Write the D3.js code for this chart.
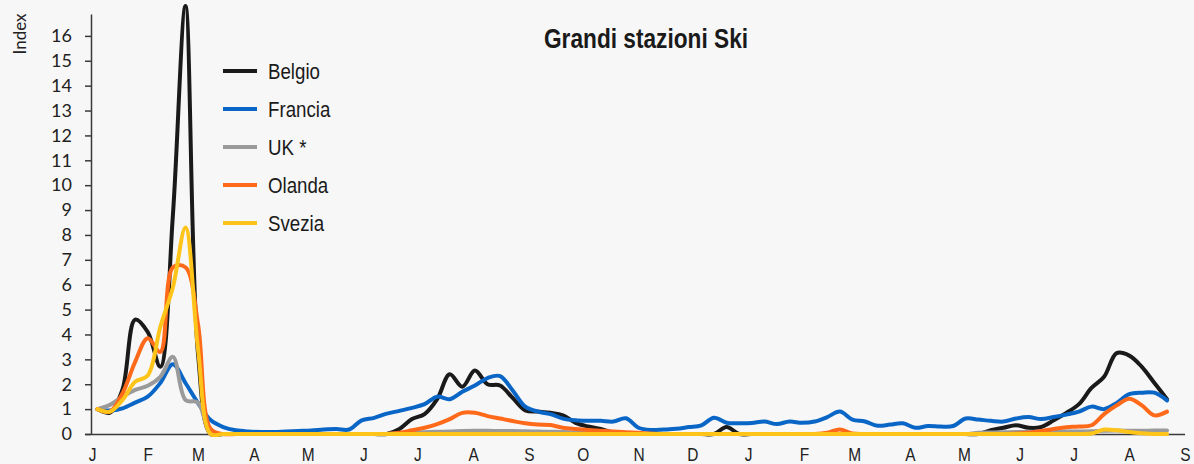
<!DOCTYPE html>
<html>
<head>
<meta charset="utf-8">
<script src="https://cdn.jsdelivr.net/npm/d3@7"></script>
<style>
  body { margin: 0; background: #f7f7f7; }
  svg { display: block; }
</style>
</head>
<body>
<svg id="chart" width="1194" height="464"></svg>
<script>
// weekly index values, first week starting 4 Jan (year 1) up to late Aug (year 2)
var startDate = new Date(2021, 0, 4)

var monthLabels = ["J", "F", "M", "A", "M", "J", "J", "A", "S", "O", "N", "D",
    "J", "F", "M", "A", "M", "J", "J", "A", "S"]

var yTicks = [0, 1, 2, 3, 4, 5, 6, 7, 8, 9, 10, 11, 12, 13, 14, 15, 16]

var seriesNames = ["Belgio", "Francia", "UK *", "Olanda", "Svezia"]
var seriesColors = ["#1a1a1a", "#0a66c6", "#9a9a9a", "#ff6a1a", "#ffc41a"]

var belgio = [1.0, 0.86, 1.8, 4.6, 4.1, 2.7, 8.8, 17.2, 3.2, 0,
    0, 0, 0, 0, 0, 0, 0, 0, 0, 0,
    0, 0, 0, 0, 0.2, 0.6, 0.8, 1.4, 2.4, 1.9,
    2.55, 2.0, 1.95, 1.45, 0.95, 0.9, 0.85, 0.75, 0.45, 0.3,
    0.2, 0.05, 0, 0, 0, 0, 0, 0, 0, 0,
    0.28, 0, 0, 0, 0, 0, 0, 0, 0, 0,
    0, 0, 0, 0, 0, 0, 0, 0, 0, 0,
    0, 0.15, 0.25, 0.35, 0.25, 0.28, 0.55, 0.85, 1.2, 1.85,
    2.3, 3.25, 3.15, 2.7, 2.05, 1.4]

var francia = [1.0, 0.94, 1.03, 1.26, 1.5, 2.05, 2.8, 2.05, 1.24, 0.56,
    0.28, 0.15, 0.1, 0.08, 0.08, 0.1, 0.12, 0.14, 0.18, 0.2,
    0.18, 0.55, 0.65, 0.82, 0.93, 1.05, 1.2, 1.5, 1.4, 1.7,
    1.95, 2.25, 2.33, 1.75, 1.1, 0.9, 0.8, 0.62, 0.55, 0.53,
    0.53, 0.5, 0.63, 0.25, 0.16, 0.18, 0.21, 0.28, 0.35, 0.65,
    0.45, 0.43, 0.44, 0.5, 0.4, 0.5, 0.45, 0.5, 0.68, 0.9,
    0.58, 0.5, 0.33, 0.38, 0.43, 0.25, 0.32, 0.3, 0.32, 0.62,
    0.58, 0.53, 0.5, 0.62, 0.68, 0.6, 0.68, 0.78, 0.9, 1.1,
    1.0, 1.25, 1.6, 1.66, 1.66, 1.35]

var uk = [1.0, 1.17, 1.5, 1.77, 1.94, 2.3, 3.1, 1.37, 1.26, 0,
    0, 0, 0, 0, 0, 0, 0, 0, 0, 0,
    0, 0, 0, 0, 0.03, 0.05, 0.07, 0.09, 0.1, 0.12,
    0.13, 0.13, 0.12, 0.12, 0.11, 0.1, 0.09, 0.08, 0.06, 0.05,
    0.04, 0.03, 0.02, 0, 0, 0, 0, 0, 0, 0,
    0, 0, 0, 0, 0, 0, 0, 0, 0, 0,
    0, 0, 0, 0, 0, 0, 0, 0, 0, 0,
    0.05, 0.06, 0.07, 0.08, 0.08, 0.09, 0.1, 0.1, 0.1, 0.11,
    0.13, 0.14, 0.13, 0.13, 0.14, 0.14]

var olanda = [1.0, 0.9, 1.64, 2.9, 3.85, 3.3, 6.7, 6.7, 4.4, 0.2,
    0, 0, 0, 0, 0, 0, 0, 0, 0, 0,
    0, 0, 0, 0, 0.05, 0.15, 0.25, 0.4, 0.6, 0.85,
    0.85, 0.72, 0.62, 0.52, 0.43, 0.38, 0.36, 0.25, 0.2, 0.16,
    0.13, 0.1, 0.07, 0.05, 0.02, 0, 0, 0, 0, 0,
    0, 0, 0, 0, 0, 0, 0, 0, 0.05, 0.18,
    0.02, 0, 0, 0, 0, 0, 0, 0, 0, 0,
    0, 0, 0, 0.02, 0.05, 0.12, 0.2, 0.27, 0.3, 0.35,
    0.8, 1.15, 1.42, 1.15, 0.75, 0.9]

var svezia = [1.0, 0.9, 1.37, 2.1, 2.35, 4.3, 5.9, 8.3, 3.4, 0,
    0, 0, 0, 0, 0, 0, 0, 0, 0, 0,
    0, 0, 0, 0, 0, 0, 0, 0, 0, 0,
    0, 0, 0, 0, 0, 0, 0, 0, 0, 0,
    0, 0, 0, 0, 0, 0, 0, 0, 0, 0,
    0, 0, 0, 0, 0, 0, 0, 0, 0, 0,
    0, 0, 0, 0, 0, 0, 0, 0, 0, 0,
    0, 0, 0, 0, 0, 0, 0, 0, 0, 0.02,
    0.18, 0.15, 0.08, 0.03, 0, 0]

var allSeries = [belgio, francia, uk, olanda, svezia]

var svg = d3.select("#chart")
var width = 1194, height = 464

svg.append("rect").attr("width", width).attr("height", height).attr("fill", "#f7f7f7")

var x = d3.scaleTime()
    .domain([new Date(2021, 0, 1), new Date(2022, 8, 1)])
    .range([92, 1185])

var y = d3.scaleLinear()
    .domain([0, 16.88])
    .range([434, 14])

function weekDate(i) {
    return d3.timeDay.offset(startDate, i * 7)
}

// y axis
var yAxis = svg.append("g")
    .attr("transform", "translate(91,0)")
    .call(d3.axisLeft(y).tickValues(yTicks).tickSize(6).tickSizeOuter(0).tickPadding(13))
yAxis.select(".domain").attr("stroke", "#3a3a3a").attr("stroke-width", 1.5)
yAxis.selectAll(".tick line").attr("stroke", "#3a3a3a").attr("stroke-width", 1.5)
yAxis.selectAll(".tick text")
    .attr("font-family", "Lato, 'Open Sans', sans-serif")
    .attr("font-size", 18)
    .attr("fill", "#222")

// x axis
var monthTicks = d3.timeMonth.range(new Date(2021, 0, 1), new Date(2022, 9, 1)).slice(0, monthLabels.length)
var xAxis = svg.append("g")
    .attr("transform", "translate(0,434)")
    .call(d3.axisBottom(x).tickValues(monthTicks).tickSize(0).tickSizeOuter(0).tickPadding(14)
        .tickFormat(function(d, i) { return monthLabels[i] }))
xAxis.select(".domain").attr("d", "M85,0.5H1185").attr("stroke", "#3a3a3a").attr("stroke-width", 1.5)
xAxis.selectAll(".tick text")
    .attr("font-family", "'Liberation Sans', Arial, sans-serif")
    .attr("font-size", 18)
    .attr("fill", "#222")
    .attr("transform", "scale(0.86,1)")

// axis title
svg.append("text")
    .attr("transform", "translate(26,34) rotate(-90)")
    .attr("text-anchor", "middle")
    .attr("font-family", "Lato, sans-serif")
    .attr("font-size", 17)
    .attr("fill", "#222")
    .text("Index")

// chart title
svg.append("text")
    .attr("transform", "translate(646,47.5) scale(0.84,1)")
    .attr("text-anchor", "middle")
    .attr("font-family", "'Liberation Sans', Arial, sans-serif")
    .attr("font-weight", "bold")
    .attr("font-size", 27)
    .attr("fill", "#1a1a1a")
    .text("Grandi stazioni Ski")

// lines
svg.append("clipPath").attr("id", "plotClip")
    .append("rect").attr("x", 0).attr("y", 0).attr("width", width).attr("height", 437)

var line = d3.line()
    .x(function(d, i) { return x(weekDate(i)) })
    .y(function(d) { return y(d) })
    .curve(d3.curveCatmullRom.alpha(0.5))

var lines = svg.append("g").attr("clip-path", "url(#plotClip)")
allSeries.forEach(function(values, k) {
    lines.append("path")
        .datum(values)
        .attr("d", line)
        .attr("fill", "none")
        .attr("stroke", seriesColors[k])
        .attr("stroke-width", 4)
        .attr("stroke-linejoin", "round")
        .attr("stroke-linecap", "round")
})

// legend
var legend = svg.append("g")
seriesNames.forEach(function(name, k) {
    var ly = 71 + k * 38
    legend.append("line")
        .attr("x1", 223).attr("x2", 257)
        .attr("y1", ly).attr("y2", ly)
        .attr("stroke", seriesColors[k])
        .attr("stroke-width", 4)
    legend.append("text")
        .attr("transform", "translate(268," + (ly + 8) + ") scale(0.85,1)")
        .attr("font-family", "'Liberation Sans', Arial, sans-serif")
        .attr("font-size", 22)
        .attr("fill", "#1a1a1a")
        .text(name)
})
</script>
</body>
</html>
